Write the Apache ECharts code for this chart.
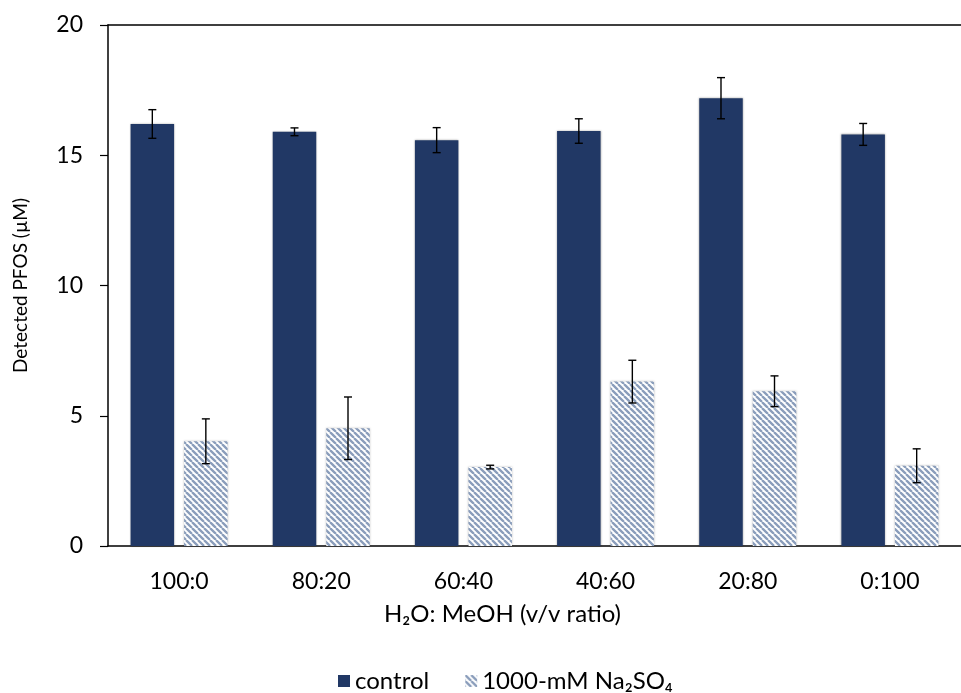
<!DOCTYPE html>
<html>
<head>
<meta charset="utf-8">
<script src="https://cdn.jsdelivr.net/npm/echarts@6/dist/echarts.min.js"></script>
<style>
html,body{margin:0;padding:0;background:#fff;}
#c{width:961px;height:693px;}
</style>
</head>
<body>
<div id="c"></div>
<script>
const categories = ['100:0', '80:20', '60:40', '40:60', '20:80', '0:100'];
const controlValues = [16.2, 15.9, 15.58, 15.93, 17.19, 15.8];
const controlErrors = [0.55, 0.15, 0.48, 0.47, 0.79, 0.42];
const saltValues = [4.02, 4.52, 3.03, 6.31, 5.94, 3.08];
const saltErrors = [0.86, 1.2, 0.07, 0.82, 0.59, 0.65];
const yTicks = { min: 0, max: 20, interval: 5 };

const FONT = 'Lato';
const darkBlue = '#213865';
const hatchBlue = '#8a9dbb';

// diagonal hatch pattern
function makeHatch() {
  const s = 6;
  const cv = document.createElement('canvas');
  cv.width = s; cv.height = s;
  const ctx = cv.getContext('2d');
  ctx.fillStyle = '#ffffff';
  ctx.fillRect(0, 0, s, s);
  ctx.strokeStyle = hatchBlue;
  ctx.lineWidth = 2.3;
  ctx.beginPath();
  for (let k = -1; k <= 1; k++) {
    ctx.moveTo(k * s, 0);
    ctx.lineTo(k * s + s, s);
  }
  ctx.stroke();
  return cv;
}
const hatch = { image: makeHatch(), repeat: 'repeat' };

const BAR_W = 0.306;
const BAR_GAP = 0.23;

function errRenderer(sign, vals, errs) {
  return function (params, api) {
    const i = api.value(0);
    const band = api.size([1, 0])[0];
    const off = sign * band * BAR_W * (1 + BAR_GAP) / 2;
    const c = api.coord([i, vals[i]]);
    const hi = api.coord([i, vals[i] + errs[i]]);
    const lo = api.coord([i, vals[i] - errs[i]]);
    const x = c[0] + off;
    const cap = 4;
    const st = { stroke: '#000', lineWidth: 1.4 };
    return {
      type: 'group',
      children: [
        { type: 'line', shape: { x1: x, y1: hi[1], x2: x, y2: lo[1] }, style: st },
        { type: 'line', shape: { x1: x - cap, y1: hi[1], x2: x + cap, y2: hi[1] }, style: st },
        { type: 'line', shape: { x1: x - cap, y1: lo[1], x2: x + cap, y2: lo[1] }, style: st }
      ]
    };
  };
}

const chart = echarts.init(document.getElementById('c'), null, { renderer: 'canvas' });
chart.setOption({
  animation: false,
  backgroundColor: '#ffffff',
  textStyle: { fontFamily: FONT },
  grid: { left: 108, top: 25, bottom: 147, right: -10, containLabel: false },
  legend: {
    top: 664,
    left: 333,
    itemWidth: 12,
    itemHeight: 12,
    itemGap: 36,
    textStyle: { fontFamily: FONT, fontSize: 24, color: '#000' },
    data: [
      { name: 'control', icon: 'rect' },
      { name: '1000-mM Na₂SO₄', icon: 'rect' }
    ]
  },
  xAxis: [{
    type: 'category',
    data: categories,
    axisLine: { lineStyle: { color: '#000', width: 1.5 } },
    axisTick: { show: false },
    axisLabel: { color: '#000', fontSize: 23, margin: 24, fontFamily: FONT },
    name: 'H₂O: MeOH (v/v ratio)',
    nameLocation: 'middle',
    nameGap: 56,
    nameTextStyle: { color: '#000', fontSize: 24, fontFamily: FONT, padding: [0, 64, 0, 0] }
  }, {
    type: 'category',
    position: 'top',
    data: categories,
    axisLine: { show: true, lineStyle: { color: '#000', width: 1.5 } },
    axisTick: { show: false },
    axisLabel: { show: false }
  }],
  yAxis: {
    type: 'value',
    min: yTicks.min,
    max: yTicks.max,
    interval: yTicks.interval,
    axisLine: { show: true, lineStyle: { color: '#000', width: 1.5 } },
    axisTick: { show: true, inside: false, length: 8, lineStyle: { color: '#000', width: 1.2 } },
    splitLine: { show: false },
    axisLabel: { color: '#000', fontSize: 23, margin: 25, fontFamily: FONT },
    name: 'Detected PFOS (µM)',
    nameLocation: 'middle',
    nameRotate: 90,
    nameGap: 78,
    nameTextStyle: { color: '#000', fontSize: 19, fontFamily: FONT }
  },
  series: [
    {
      name: 'control',
      type: 'bar',
      data: controlValues,
      barWidth: (BAR_W * 100) + '%',
      barGap: (BAR_GAP * 100) + '%',
      itemStyle: { color: darkBlue, shadowBlur: 2, shadowColor: 'rgba(0,0,0,0.35)' }
    },
    {
      name: '1000-mM Na₂SO₄',
      type: 'bar',
      data: saltValues,
      barWidth: (BAR_W * 100) + '%',
      barGap: (BAR_GAP * 100) + '%',
      itemStyle: { color: hatch, shadowBlur: 2, shadowColor: 'rgba(0,0,0,0.25)' }
    },
    {
      type: 'custom',
      name: 'errC',
      renderItem: errRenderer(-1, controlValues, controlErrors),
      data: categories.map((c, i) => [i]),
      z: 10,
      silent: true
    },
    {
      type: 'custom',
      name: 'errS',
      renderItem: errRenderer(1, saltValues, saltErrors),
      data: categories.map((c, i) => [i]),
      z: 10,
      silent: true
    }
  ]
});
</script>
</body>
</html>
